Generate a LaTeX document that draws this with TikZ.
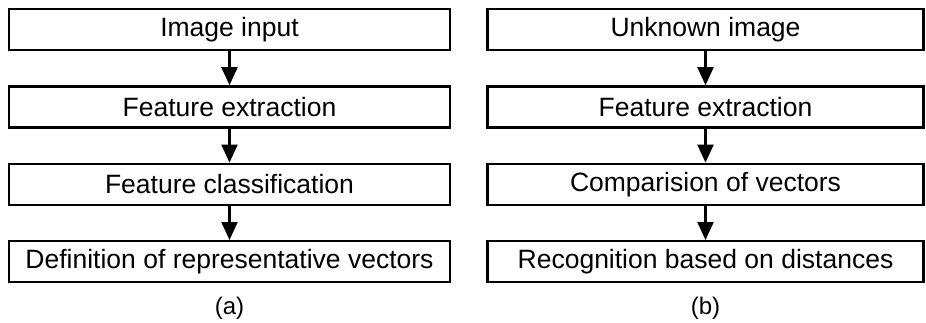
\documentclass[tikz,border=0pt]{standalone}
\usepackage{fontspec}
\setmainfont{Liberation Sans}
\usetikzlibrary{positioning,arrows.meta}
\begin{document}
\begin{tikzpicture}[
x=1pt,y=1pt,
node distance=34pt,
box/.style={draw,line width=2.4pt,minimum height=41pt,inner sep=0pt,
            font=\fontsize{26.5}{30}\selectfont},
leftbox/.style={box,minimum width=441pt},
rightbox/.style={box,minimum width=436pt},
flow/.style={line width=2.2pt,-{Triangle[width=16pt,length=18pt]}},
caption/.style={font=\fontsize{24}{28}\selectfont,inner sep=0pt}
]
\useasboundingbox (0,0) rectangle (926,-322);
% training side
\node[leftbox] (a1) at (229.5,-29.5) {Image input};
\node[leftbox,below=of a1] (a2) {Feature extraction};
\node[leftbox,below=of a2] (a3) {Feature classification};
\node[leftbox,below=of a3] (a4) {Definition of representative vectors};
\node[caption,below=14pt of a4.south] (ca) {(a)};
% recognition side
\node[rightbox] (b1) at (705.5,-29.5) {Unknown image};
\node[rightbox,below=of b1] (b2) {Feature extraction};
\node[rightbox,below=of b2] (b3) {Comparision of vectors};
\node[rightbox,below=of b3] (b4) {Recognition based on distances};
\node[caption,below=14pt of b4.south] (cb) {(b)};
\draw[flow] (a1) -- (a2);
\draw[flow] (a2) -- (a3);
\draw[flow] (a3) -- (a4);
\draw[flow] (b1) -- (b2);
\draw[flow] (b2) -- (b3);
\draw[flow] (b3) -- (b4);
\end{tikzpicture}
\end{document}
